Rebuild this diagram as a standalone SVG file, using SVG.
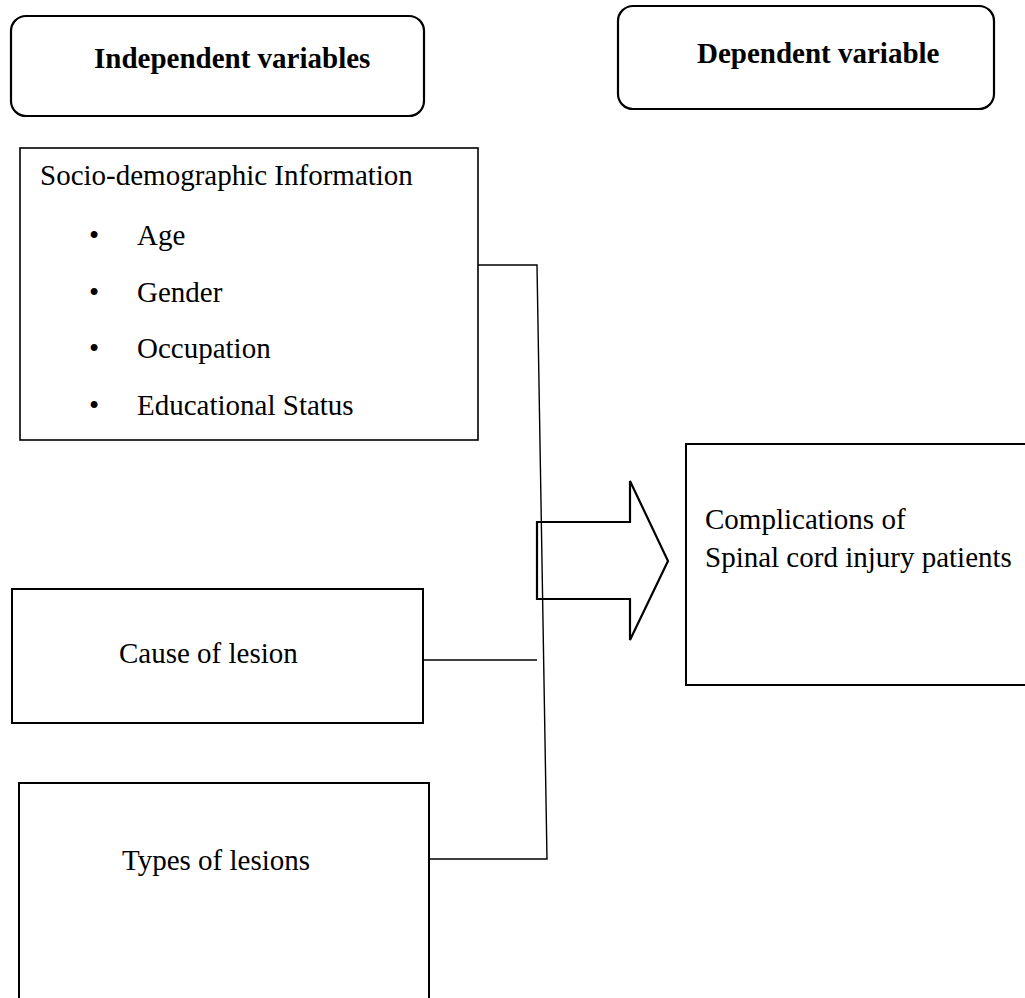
<svg xmlns="http://www.w3.org/2000/svg" width="1025" height="998" viewBox="0 0 1025 998">
<style>
  text { font-family: "Liberation Serif", "Times New Roman", serif; font-size: 29px; fill: #000; }
  .hdr { font-weight: bold; }
  .box { fill: #fff; stroke: #000; stroke-width: 1.6; }
  .rbox { fill: #fff; stroke: #000; stroke-width: 2.2; }
  .conn { fill: none; stroke: #000; stroke-width: 1.4; }
  .arrow { fill: none; stroke: #000; stroke-width: 2.2; stroke-linejoin: miter; }
</style>
<rect width="1025" height="998" fill="#fff"/>
<g id="independent-header">
  <rect class="rbox" x="11" y="16" width="413" height="100" rx="15" ry="15"/>
  <text class="hdr" x="94" y="68">Independent variables</text>
</g>
<g id="dependent-header">
  <rect class="rbox" x="618" y="6" width="376" height="103" rx="15" ry="15"/>
  <text class="hdr" x="697" y="63">Dependent variable</text>
</g>
<g id="socio">
  <rect class="box" x="20" y="148" width="458" height="292"/>
  <text x="40" y="185">Socio-demographic Information</text>
  <text x="94" y="245" text-anchor="middle">•</text>
  <text x="137" y="245">Age</text>
  <text x="94" y="302" text-anchor="middle">•</text>
  <text x="137" y="302">Gender</text>
  <text x="94" y="358" text-anchor="middle">•</text>
  <text x="137" y="358">Occupation</text>
  <text x="94" y="415" text-anchor="middle">•</text>
  <text x="137" y="415">Educational Status</text>
</g>
<g id="cause">
  <rect class="box" x="12" y="589" width="411" height="134" style="stroke-width:2"/>
  <text x="119" y="663">Cause of lesion</text>
</g>
<g id="types">
  <rect class="box" x="19" y="783" width="410" height="240" style="stroke-width:2"/>
  <text x="122" y="870">Types of lesions</text>
</g>
<g id="complications">
  <rect class="box" x="686" y="444" width="360" height="241" style="stroke-width:2"/>
  <text x="705" y="529">Complications of</text>
  <text x="705" y="567">Spinal cord injury patients</text>
</g>
<g id="connectors">
  <polyline class="conn" points="478,265 537,265 547,859 430,859"/>
  <line class="conn" x1="423" y1="660" x2="537" y2="660"/>
  <polygon class="arrow" points="537,522 630,522 630,481 668,561 630,640 630,599 537,599"/>
</g>
</svg>
